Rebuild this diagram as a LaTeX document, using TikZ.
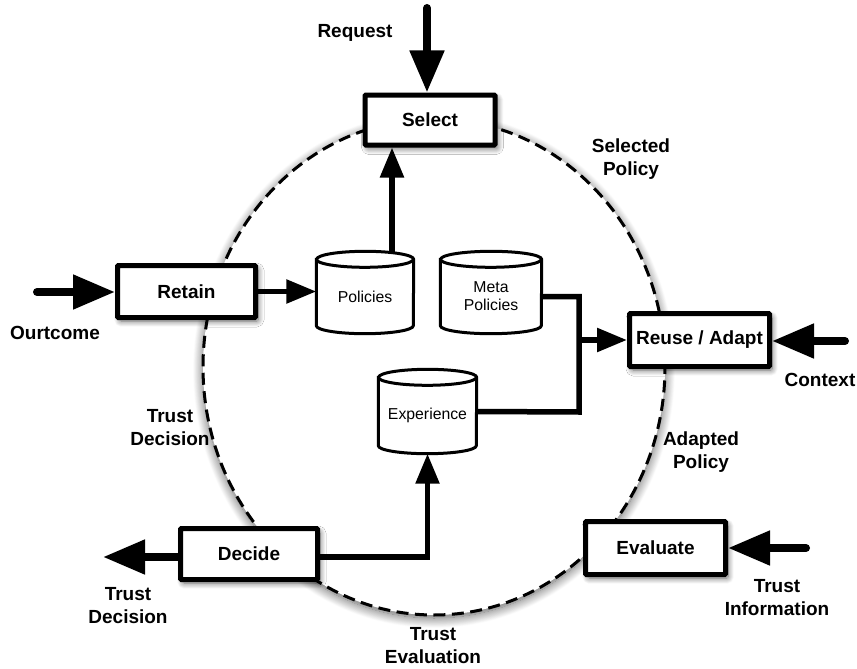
\documentclass[tikz,border=0pt]{standalone}
\usepackage{fontspec}
\setmainfont{Liberation Sans}
\usetikzlibrary{arrows.meta,shapes.geometric,shadows.blur}
\newcommand\drawcyl[2]{%
  \draw[cylline,fill=white] ([yshift=-8pt]#1.north west) -- ([yshift=8pt]#1.south west)
    arc[start angle=180,end angle=360,x radius=#2,y radius=8pt]
    -- ([yshift=-8pt]#1.north east)
    arc[start angle=0,end angle=180,x radius=#2,y radius=8pt] -- cycle;
  \draw[cylline] ([yshift=-8pt]#1.north west)
    arc[start angle=180,end angle=360,x radius=#2,y radius=8pt];
}
\begin{document}
\begin{tikzpicture}[x=1pt,y=-1pt,
  box/.style={draw, line width=5pt, fill=white, rounded corners=1pt,
    font=\fontsize{19}{23}\selectfont\bfseries, inner sep=3pt,
    blur shadow={shadow xshift=2.5pt, shadow yshift=-3.5pt, shadow blur radius=6pt,
      shadow opacity=60, shadow blur steps=12}},
  lbl/.style={font=\fontsize{19}{23}\selectfont\bfseries, align=center},
  cylbox/.style={inner sep=0pt},
  cyltxt/.style={font=\fontsize{15.8}{18}\selectfont, align=center},
  cylline/.style={line width=3pt},
  ext/.style={line width=8pt, line cap=round, -{Triangle[length=42pt,width=33pt]}},
  int/.style={line width=5.5pt, -{Triangle[length=30pt,width=23pt]}},
  link/.style={line width=5.5pt, line join=miter},
  cycle line/.style={draw, dash pattern=on 12pt off 6.5pt, line width=3pt, fill=white}
]
\useasboundingbox (0,0) rectangle (857,669);

% dashed cycle
\node[ellipse, cycle line, minimum width=462pt, minimum height=496pt, inner sep=0pt,
  blur shadow={shadow xshift=0pt, shadow yshift=-3pt, shadow blur radius=10pt,
    shadow opacity=65, shadow blur steps=16}] (cyc) at (434,367) {};

% boxes
\node[box, minimum width=130pt, minimum height=50pt] (sel) at (430,120) {Select};
\node[box, minimum width=138pt, minimum height=52pt] (ret) at (186.5,291.5) {Retain};
\node[box, minimum width=140pt, minimum height=53pt] (reu) at (699.5,340) {Reuse / Adapt};
\node[box, minimum width=137pt, minimum height=51pt] (dec) at (249,554) {Decide};
\node[box, minimum width=140pt, minimum height=53pt] (eva) at (655.5,548) {Evaluate};

% cylinders
\node[cylbox, minimum width=97pt, minimum height=82pt] (pol) at (365,292.5) {};
\node[cylbox, minimum width=101pt, minimum height=82pt] (meta) at (491,292.5) {};
\node[cylbox, minimum width=98pt, minimum height=84pt] (exp) at (427.5,411.5) {};
\drawcyl{pol}{48.5pt}
\drawcyl{meta}{50.5pt}
\drawcyl{exp}{49pt}
\node[cyltxt] (poltxt) at ([yshift=-4pt]pol.center) {Policies};
\node[cyltxt] (metatxt) at ([yshift=-4pt]meta.center) {Meta\\Policies};
\node[cyltxt] (exptxt) at ([yshift=-4pt]exp.center) {Experience};

% external arrows
\coordinate (rq) at (427,8);
\draw[ext] (rq) -- (rq |- sel.north);
\coordinate (oc) at (37,292);
\draw[ext] (oc) -- (oc -| ret.west);
\coordinate (cx) at (845,341);
\draw[ext] (cx) -- (cx -| reu.east);
\coordinate (ti) at (806,548);
\draw[ext] (ti) -- (ti -| eva.east);
\coordinate (to) at (103,557);
\draw[ext, line cap=butt] (to -| dec.west) -- (to);

% internal connectors
\coordinate (pa) at ([xshift=27pt,yshift=-3pt]pol.north);
\draw[int] (pa) -- (pa |- sel.south);
\draw[int] (ret.east) -- (ret.east -| pol.west);
\coordinate (jx) at (579,412);
\draw[link] ([yshift=-4pt]meta.east) -| (jx) -- (exp.east);
\draw[int] (jx |- reu.west) -- (reu.west);
\draw[int] ([yshift=-3pt]dec.east) -| (exp.south);

% labels
\node[lbl] (lreq) at (355,33) {Request};
\node[lbl] (lsel) at (631,159) {Selected\\Policy};
\node[lbl] (lout) at (55,333) {Ourtcome};
\node[lbl] (lctx) at (820,380) {Context};
\node[lbl] (ltd1) at (170,428) {Trust\\Decision};
\node[lbl] (lada) at (701,452) {Adapted\\Policy};
\node[lbl] (ltd2) at (128,606) {Trust\\Decision};
\node[lbl] (lte) at (433,646) {Trust\\Evaluation};
\node[lbl] (lti) at (777,598) {Trust\\Information};
\end{tikzpicture}
\end{document}
